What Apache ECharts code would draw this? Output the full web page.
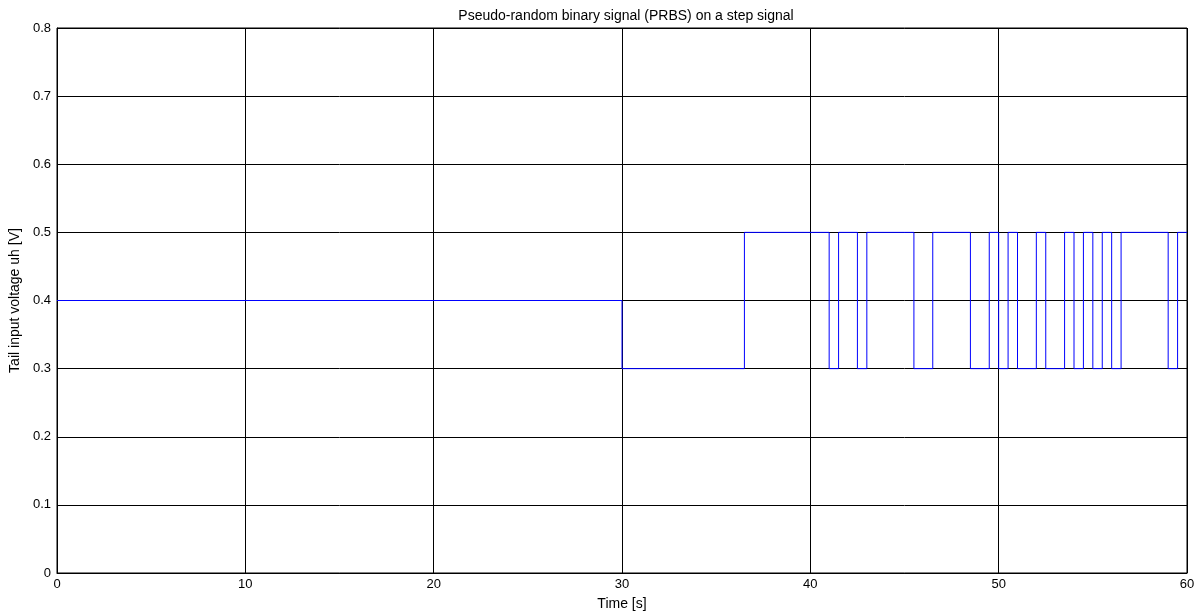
<!DOCTYPE html>
<html><head><meta charset="utf-8">
<script src="https://cdn.jsdelivr.net/npm/echarts@6/dist/echarts.min.js"></script>
<style>html,body{margin:0;padding:0;background:#fff}#c{width:1201px;height:616px}</style>
</head><body><div id="c"></div>
<script>
// Transition times [s] and the level held from each time onward [V]
const times  = [0, 30, 36.5, 41, 41.5, 42.5, 43, 45.5, 46.5, 48.5, 49.5, 50, 50.5, 51, 52, 52.5, 53.5, 54, 54.5, 55, 55.5, 56, 56.5, 59, 59.5, 60];
const levels = [0.4, 0.3, 0.5, 0.3, 0.5, 0.3, 0.5, 0.3, 0.5, 0.3, 0.5, 0.3, 0.5, 0.3, 0.5, 0.3, 0.5, 0.3, 0.5, 0.3, 0.5, 0.3, 0.5, 0.3, 0.5, 0.5];
const titleText = 'Pseudo-random binary signal (PRBS) on a step signal';
const xName = 'Time [s]';
const yName = 'Tail input voltage uh [V]';

const data = times.map((t, i) => [t, levels[i]]);
const font = 'Liberation Sans, Arial, sans-serif';
const chart = echarts.init(document.getElementById('c'), null, {renderer: 'canvas'});
chart.setOption({
  animation: false,
  backgroundColor: '#fff',
  title: {text: titleText, left: 621, top: 4, textAlign: 'center',
    textStyle: {fontFamily: font, fontSize: 14, fontWeight: 'normal', color: '#000'}},
  grid: {left: 56, right: 14, top: 28, bottom: 41, show: true, borderColor: '#000', borderWidth: 1},
  xAxis: {type: 'value', min: 0, max: 60, interval: 10,
    name: xName, nameLocation: 'middle', nameGap: 24,
    nameTextStyle: {fontFamily: font, fontSize: 14, color: '#000'},
    axisLine: {lineStyle: {color: '#000', width: 1}},
    axisTick: {inside: true, length: 5, lineStyle: {color: '#000'}},
    axisLabel: {fontFamily: font, fontSize: 13, color: '#000', margin: 5},
    splitLine: {show: true, lineStyle: {color: '#000', width: 1}}},
  yAxis: {type: 'value', min: 0, max: 0.8, interval: 0.1,
    name: yName, nameLocation: 'middle', nameGap: 35,
    nameTextStyle: {fontFamily: font, fontSize: 14, color: '#000'},
    axisLine: {show: true, lineStyle: {color: '#000', width: 1}},
    axisTick: {show: true, inside: true, length: 5, lineStyle: {color: '#000'}},
    axisLabel: {fontFamily: font, fontSize: 13, color: '#000', margin: 6,
      formatter: v => (Math.round(v * 10) / 10).toString()},
    splitLine: {show: true, lineStyle: {color: '#000', width: 1}}},
  series: [{type: 'line', step: 'end', data: data, symbol: 'none',
    lineStyle: {color: '#0000ff', width: 1}}]
});
</script></body></html>
